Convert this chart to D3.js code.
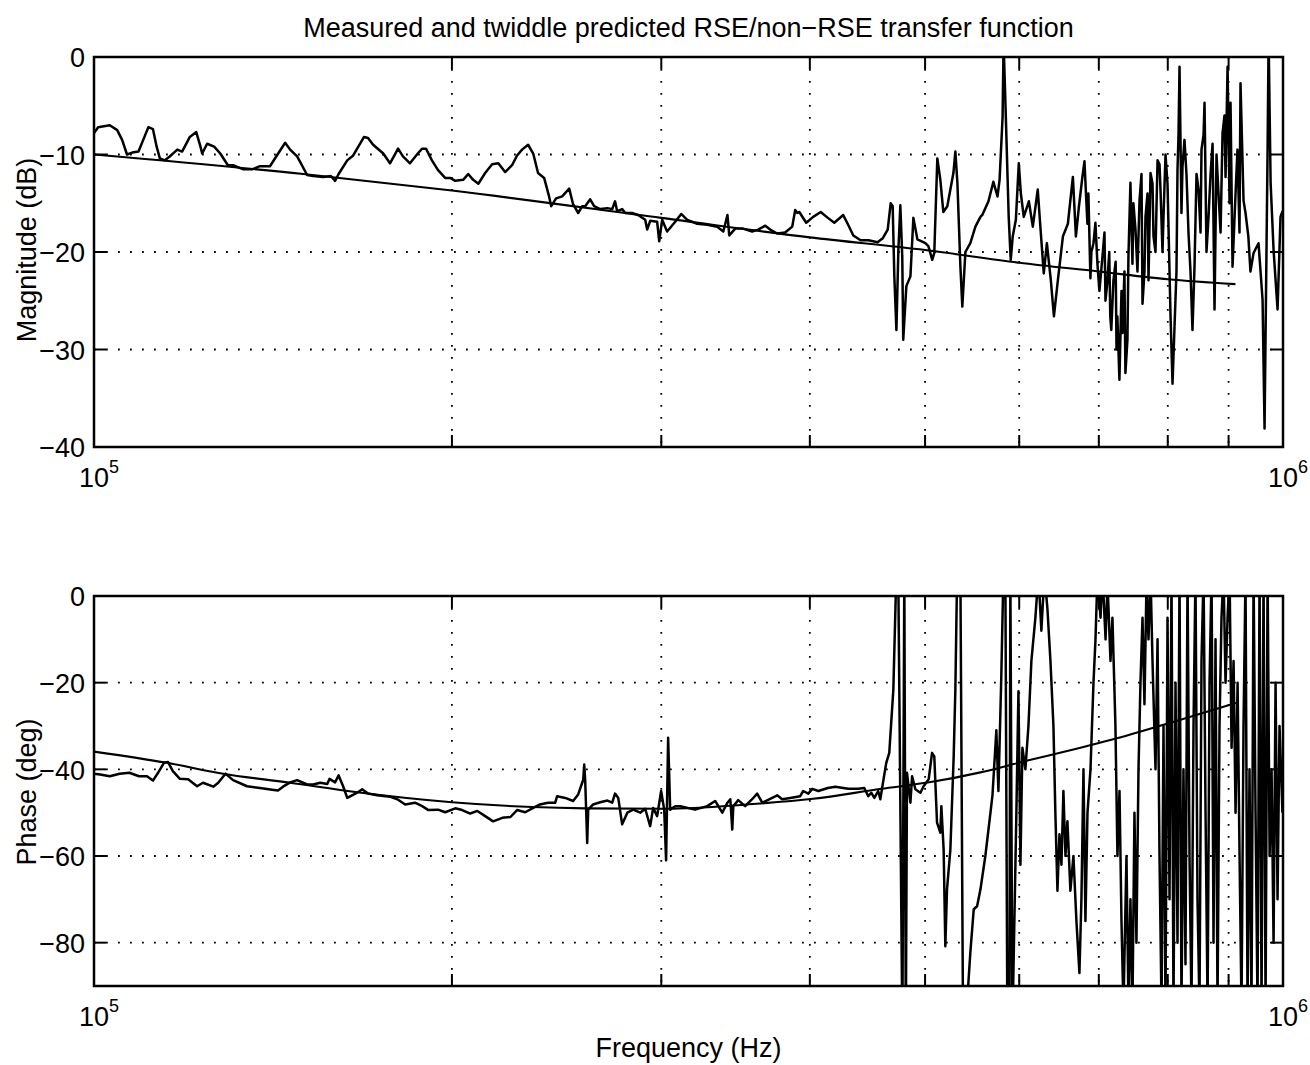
<!DOCTYPE html>
<html>
<head>
<meta charset="utf-8">
<script src="https://cdn.jsdelivr.net/npm/d3@7"></script>
<style>
  html, body { margin: 0; background: #fff; }
  svg { display: block; font-family: "Liberation Sans", Arial, Helvetica, sans-serif; }
</style>
</head>
<body>
<svg id="chart" width="1310" height="1065"></svg>
<script>
// ===== DATA =====
const TITLE   = 'Measured and twiddle predicted RSE/non\u2212RSE transfer function';
const X_LABEL = 'Frequency (Hz)';
const MAG_LABEL   = 'Magnitude (dB)';
const PHASE_LABEL = 'Phase (deg)';

const FREQ_DOMAIN = [1e5, 1e6];
const FREQ_GRID   = [2e5, 3e5, 4e5, 5e5, 6e5, 7e5, 8e5, 9e5];
const FREQ_DECADES = [{ base: '10', exp: '5', f: 1e5 }, { base: '10', exp: '6', f: 1e6 }];

const MAG_DOMAIN   = [-40, 0];
const MAG_TICKS    = [0, -10, -20, -30, -40];
const PHASE_DOMAIN = [-90, 0];
const PHASE_TICKS  = [0, -20, -40, -60, -80];

// measured magnitude, [kHz, dB]
const magMeasured = [
  [100.0,-7.8],[100.8,-7.2],[103.1,-7.0],[104.6,-7.5],[105.6,-8.5],[106.6,-10.0],[107.7,-9.8],[109.0,-9.7],
  [110.0,-8.5],[111.1,-7.2],[112.1,-7.4],[112.9,-9.2],[113.6,-10.4],[114.7,-10.6],[115.8,-10.2],[117.5,-9.5],
  [118.6,-9.7],[120.4,-8.2],[121.9,-7.7],[122.9,-9.2],[123.3,-9.9],[124.5,-8.9],[126.2,-9.2],[127.7,-9.9],
  [129.6,-11.1],[130.9,-11.1],[133.4,-11.5],[136.0,-11.5],[137.9,-11.2],[140.6,-11.2],[142.5,-10.1],[144.8,-8.8],
  [146.2,-9.5],[148.2,-10.2],[151.1,-12.1],[152.9,-12.2],[155.9,-12.3],[158.2,-12.2],[159.5,-12.7],[160.6,-12.0],
  [163.3,-10.6],[165.2,-10.1],[168.7,-8.2],[170.0,-8.3],[171.7,-9.0],[175.1,-9.9],[177.4,-10.9],[180.2,-9.4],
  [181.9,-10.2],[184.4,-10.9],[187.2,-9.9],[188.8,-9.4],[190.2,-9.4],[192.4,-10.6],[194.7,-11.6],[197.4,-12.4],
  [199.3,-12.4],[201.3,-12.7],[204.4,-12.6],[206.4,-12.0],[208.4,-12.6],[210.5,-13.0],[213.3,-11.9],[216.2,-11.0],
  [218.8,-10.9],[221.7,-11.8],[224.7,-11.1],[226.9,-10.1],[229.1,-9.5],[231.8,-9.0],[234.1,-9.9],[236.3,-11.9],
  [239.1,-12.4],[241.4,-14.3],[242.4,-15.3],[244.7,-14.5],[247.6,-14.3],[251.0,-13.5],[252.9,-15.1],[255.4,-16.0],
  [257.4,-15.3],[258.9,-15.3],[261.4,-14.6],[263.4,-15.3],[266.5,-15.6],[270.3,-15.5],[272.8,-15.6],[274.3,-14.8],
  [275.4,-15.8],[278.1,-15.6],[279.8,-16.0],[283.5,-16.0],[286.8,-16.2],[290.8,-16.7],[291.9,-17.7],[293.6,-16.8],
  [297.6,-16.9],[298.8,-18.9],[300.5,-16.7],[303.4,-17.9],[308.2,-16.9],[311.8,-16.1],[314.2,-16.5],[315.5,-16.7],
  [321.6,-17.1],[327.9,-17.2],[334.3,-17.4],[338.3,-17.9],[341.0,-16.2],[342.2,-18.3],[346.2,-17.6],[351.5,-17.6],
  [357.7,-17.9],[361.9,-17.7],[366.9,-17.3],[370.4,-17.7],[375.5,-18.1],[381.3,-18.0],[386.6,-17.4],[388.8,-15.7],
  [390.4,-16.0],[391.9,-15.9],[397.2,-17.0],[402.6,-16.4],[408.5,-15.9],[414.2,-16.5],[419.4,-17.0],[426.7,-16.2],
  [430.8,-17.2],[435.1,-18.3],[441.3,-18.8],[448.1,-18.8],[456.1,-19.0],[460.6,-18.6],[465.1,-17.7],[467.8,-15.0],
  [469.6,-15.3],[471.1,-22.5],[473.0,-28.0],[474.8,-19.8],[476.6,-15.2],[478.4,-20.5],[479.3,-29.0],[482.2,-23.5],
  [486.0,-22.5],[488.8,-16.5],[492.6,-18.7],[500.3,-19.1],[503.2,-19.4],[507.0,-20.8],[509.0,-20.1],[512.0,-10.4],
  [515.0,-12.6],[518.0,-15.9],[522.0,-15.3],[525.1,-13.6],[528.2,-11.9],[530.2,-9.7],[532.3,-12.9],[535.4,-21.5],
  [537.4,-25.6],[540.6,-20.0],[545.8,-19.1],[551.2,-17.4],[556.6,-16.4],[558.6,-16.2],[565.3,-14.8],[570.7,-12.8],
  [575.3,-14.3],[577.6,-12.6],[581.0,-6.1],[582.1,1.5],[584.4,-5.4],[587.9,-16.4],[590.2,-20.8],[592.5,-18.4],
  [596.1,-16.7],[599.5,-10.9],[601.9,-14.0],[605.3,-16.4],[611.3,-14.8],[616.0,-17.4],[621.9,-13.6],[625.5,-17.9],
  [629.2,-22.2],[633.0,-19.1],[637.9,-22.9],[641.7,-26.6],[646.6,-22.9],[653.0,-18.4],[659.3,-17.1],[665.7,-12.3],
  [669.6,-18.4],[673.6,-15.3],[678.1,-12.3],[680.8,-10.7],[684.7,-17.1],[686.0,-14.0],[688.7,-22.7],[690.0,-20.0],
  [692.8,-19.1],[695.4,-17.0],[698.1,-21.2],[700.8,-24.0],[704.9,-20.5],[707.7,-18.0],[709.1,-25.0],[711.5,-23.2],
  [714.3,-20.0],[715.7,-26.6],[717.1,-28.0],[720.1,-22.9],[723.2,-21.0],[724.4,-30.0],[725.6,-26.6],[728.5,-33.1],
  [731.4,-24.0],[732.8,-28.3],[735.6,-22.0],[737.0,-32.4],[739.9,-29.0],[741.3,-20.5],[744.2,-12.9],[747.1,-21.2],
  [748.5,-15.0],[751.5,-17.7],[754.4,-22.0],[757.4,-14.7],[760.3,-12.0],[761.8,-25.3],[764.7,-22.0],[766.2,-16.4],
  [769.2,-14.0],[770.7,-22.9],[773.7,-11.9],[776.7,-13.0],[778.2,-18.4],[781.2,-20.0],[784.3,-10.6],[787.3,-11.0],
  [788.8,-13.6],[791.9,-20.0],[793.4,-16.4],[796.5,-10.0],[799.6,-13.0],[804.3,-26.6],[807.4,-33.5],[810.5,-27.7],
  [813.6,-22.0],[815.2,-11.6],[816.8,-8.0],[818.4,-1.0],[821.5,-16.0],[823.1,-11.3],[826.3,-8.5],[829.5,-12.0],
  [832.8,-18.1],[836.0,-22.0],[839.2,-28.0],[842.5,-21.5],[845.8,-12.0],[849.1,-13.6],[852.4,-18.0],[854.0,-9.5],
  [857.4,-8.0],[859.0,-4.7],[862.3,-20.0],[865.7,-16.4],[869.1,-12.0],[872.5,-8.9],[875.8,-25.9],[879.2,-10.0],
  [882.6,-14.0],[886.1,-18.0],[889.5,-7.8],[892.9,-6.0],[894.7,-12.3],[898.2,-1.0],[901.7,-15.0],[903.4,-4.7],
  [906.9,-21.5],[912.2,-14.0],[915.6,-9.5],[919.2,-18.0],[921.0,-2.7],[926.4,-14.7],[930.0,-16.0],[935.1,-18.4],
  [938.9,-22.0],[944.6,-20.1],[953.7,-19.1],[961.2,-24.9],[964.9,-38.1],[970.6,-9.5],[972.5,2.0],[976.3,-12.9],
  [981.9,-19.8],[989.5,-25.9],[995.2,-16.4],[999.0,-15.8]
];

// twiddle predicted magnitude, [kHz, dB]
const magFit = [
  [100,-10.0],[150,-12.0],[200,-13.7],[300,-16.5],[400,-18.5],[500,-19.8],
  [600,-21.1],[700,-22.0],[800,-22.8],[912,-23.3]
];

// measured phase, [kHz, deg]  (values outside the axis are clipped, as in the original)
const phaseMeasured = [
  [100.0,-41.0],[101.2,-41.2],[103.1,-41.6],[105.1,-41.0],[107.1,-40.8],[109.1,-41.6],[110.8,-41.6],[112.1,-42.6],
  [113.2,-40.8],[114.5,-38.5],[115.4,-38.3],[116.5,-40.4],[118.1,-42.2],[120.0,-42.3],[122.1,-43.9],[123.5,-43.1],
  [126.0,-44.0],[127.2,-43.1],[129.0,-41.0],[130.9,-42.5],[134.5,-43.9],[137.9,-44.3],[141.2,-44.7],[142.8,-44.9],
  [144.2,-44.0],[146.2,-43.0],[148.2,-42.5],[151.1,-43.5],[152.9,-43.5],[155.0,-43.1],[157.1,-43.4],[157.8,-42.2],
  [159.5,-43.0],[160.6,-41.4],[162.0,-43.9],[163.3,-46.6],[166.5,-45.4],[168.1,-44.6],[170.0,-45.6],[173.0,-46.0],
  [177.4,-46.3],[180.2,-47.0],[182.7,-48.1],[186.2,-47.7],[188.8,-48.5],[191.1,-49.4],[194.7,-49.3],[197.4,-49.9],
  [201.3,-49.0],[204.0,-49.4],[207.2,-50.2],[210.1,-49.6],[213.3,-50.8],[216.6,-52.0],[220.5,-51.2],[224.0,-51.0],
  [226.9,-49.4],[230.5,-49.9],[234.1,-48.9],[237.2,-48.1],[240.9,-47.7],[244.3,-47.7],[245.2,-46.2],[249.1,-46.6],
  [252.9,-47.3],[255.4,-45.8],[257.9,-42.4],[258.4,-38.9],[258.9,-42.7],[259.9,-57.0],[260.4,-49.3],[262.9,-48.1],
  [266.5,-47.6],[270.3,-47.2],[272.8,-47.7],[274.3,-45.6],[276.0,-46.6],[278.1,-52.7],[280.9,-50.0],[284.1,-49.3],
  [288.0,-50.0],[290.8,-49.1],[293.6,-53.1],[295.3,-48.9],[297.6,-50.8],[299.9,-45.0],[301.7,-49.3],[302.8,-61.0],
  [304.0,-32.7],[305.2,-49.3],[308.2,-48.5],[311.2,-48.5],[320.3,-49.3],[327.9,-48.5],[333.0,-47.3],[337.6,-50.0],
  [341.0,-47.7],[342.9,-46.9],[344.2,-53.9],[344.9,-48.5],[348.2,-47.1],[352.9,-48.5],[357.7,-46.9],[361.2,-45.6],
  [364.8,-47.7],[370.4,-46.8],[375.5,-46.0],[379.1,-46.9],[385.1,-46.6],[392.6,-46.2],[394.9,-45.0],[398.8,-45.6],
  [401.9,-44.5],[406.6,-45.0],[414.2,-44.3],[420.2,-44.0],[430.8,-44.5],[439.3,-44.5],[444.5,-44.3],[447.9,-46.2],
  [450.5,-45.4],[453.2,-46.6],[456.6,-45.0],[458.5,-46.9],[461.1,-42.7],[463.8,-38.5],[466.5,-36.2],[470.2,-21.6],
  [472.9,5],[474.7,5],[478.5,-100],[480.3,5],[481.7,-100],[482.8,-40.8],[486.0,-47.7],[487.6,-41.6],
  [490.7,-44.6],[495.5,-45.4],[498.6,-43.9],[503.5,-42.3],[506.8,-36.2],[509.0,-37.0],[511.7,-52.3],[515.0,-54.6],
  [516.0,-48.5],[518.3,-58.5],[520.0,-80.8],[521.7,-67.7],[525.1,-58.5],[528.5,-36.9],[530.2,-21.6],[532.0,5],
  [535.4,5],[538.2,-100],[540.6,-100],[545.8,-82.3],[549.4,-72.3],[553.0,-71.6],[556.6,-67.7],[561.9,-60],
  [567.5,-50],[569.7,-46],[574.0,-31],[576.3,-45],[579.6,-18],[581.9,5],[584.1,5],[586.4,-100],
  [588.7,-100],[589.8,5],[592.1,-100],[596.7,-50],[599.1,-22],[601.4,-62],[603.7,-35],[607.2,-40],
  [610.8,-30],[614.3,-15],[619.1,-5],[622.7,5],[626.3,-8],[630.0,5],[633.7,-3],[637.4,-15],
  [641.1,-30],[643.5,-50],[646.1,-68],[648.6,-55],[651.1,-62],[653.6,-45],[656.2,-60],[658.7,-52],
  [662.5,-68],[666.4,-60],[670.3,-75],[674.2,-87],[676.8,-70],[679.5,-40],[682.1,-75],[684.8,-50],
  [688.8,-40],[692.8,-20],[695.5,-10],[698.2,5],[702.3,-5],[705.0,5],[709.2,-10],[711.9,3],
  [716.0,-15],[718.7,-5],[722.9,-30],[725.7,-60],[728.6,-45],[731.4,-75],[734.2,-95],[738.5,-60],
  [741.4,-95],[744.2,-70],[747.1,-95],[750.0,-50],[752.9,-80],[755.9,-40],[758.8,-20],[761.8,-5],
  [764.7,-25],[767.7,3],[770.7,-10],[773.7,5],[776.7,-15],[781.2,-40],[784.3,-10],[787.3,-60],
  [790.4,-95],[793.4,-30],[796.5,-95],[799.6,-5],[802.7,-70],[805.8,5],[808.9,-95],[812.1,-20],
  [815.2,-80],[818.4,5],[821.5,-95],[824.7,-40],[827.9,-85],[831.2,5],[834.4,-60],[837.6,-95],
  [840.9,-30],[844.1,5],[847.4,-70],[850.7,-95],[854.0,-15],[857.4,5],[860.7,-50],[864.1,-95],
  [867.4,-20],[870.8,5],[874.1,-80],[877.5,-10],[880.9,-95],[884.3,-30],[887.7,-5],[891.2,5],
  [894.7,-20],[898.2,-5],[901.7,5],[905.2,-35],[908.7,-15],[912.2,-50],[915.8,-20],[919.3,-60],
  [922.8,-95],[926.4,-30],[930.0,5],[933.6,-95],[937.2,-40],[940.8,-95],[944.6,5],[948.2,-50],
  [951.9,-95],[955.6,5],[959.3,-95],[963.0,5],[966.8,-95],[970.6,5],[974.4,-60],[978.1,-40],
  [981.9,-80],[985.7,-20],[989.5,-70],[993.3,-30],[999.0,-50]
];

// twiddle predicted phase, [kHz, deg]
const phaseFit = [
  [100,-35.9],[115.2,-38.5],[128.4,-41.0],[146.2,-43.1],[166.5,-45.3],[200,-47.6],[233.6,-48.7],
  [258.9,-49.0],[302.8,-49.1],[354.3,-48.1],[402.6,-46.8],[459.3,-44.5],[504,-43.0],[556.6,-40.7],
  [607.2,-38.1],[669,-35.3],[737,-32.3],[812.1,-28.9],[917.6,-24.5]
];


// ===== LAYOUT =====
const LEFT = 94, RIGHT = 1283;
const TICK_LEN = 12;
const FONT = 27;

const svg = d3.select('#chart');
const x = d3.scaleLog().domain(FREQ_DOMAIN).range([LEFT, RIGHT]);

function drawPanel({ id, top, bottom, domain, ticks, label, labelY, measured, fit }) {
    const y = d3.scaleLinear().domain(domain).range([bottom, top]);
    const g = svg.append('g');

    svg.append('clipPath').attr('id', id)
        .append('rect')
        .attr('x', LEFT).attr('y', top)
        .attr('width', RIGHT - LEFT).attr('height', bottom - top);

    // dotted grid
    const grid = g.append('g')
        .attr('stroke', '#000')
        .attr('stroke-width', 1.8)
        .attr('stroke-dasharray', '1.8 10.2');

    grid.selectAll('.vgrid')
        .data(FREQ_GRID)
        .enter().append('line')
        .attr('x1', d => x(d)).attr('x2', d => x(d))
        .attr('y1', top).attr('y2', bottom);

    grid.selectAll('.hgrid')
        .data(ticks.filter(t => t > domain[0] && t < domain[1]))
        .enter().append('line')
        .attr('x1', LEFT).attr('x2', RIGHT)
        .attr('y1', d => y(d)).attr('y2', d => y(d));

    // inward tick marks
    const tk = g.append('g').attr('stroke', '#000').attr('stroke-width', 2);
    ticks.forEach(t => {
        tk.append('line').attr('x1', LEFT).attr('x2', LEFT + TICK_LEN).attr('y1', y(t)).attr('y2', y(t));
        tk.append('line').attr('x1', RIGHT - TICK_LEN).attr('x2', RIGHT).attr('y1', y(t)).attr('y2', y(t));
    });
    FREQ_GRID.forEach(f => {
        tk.append('line').attr('x1', x(f)).attr('x2', x(f)).attr('y1', bottom).attr('y2', bottom - TICK_LEN);
        tk.append('line').attr('x1', x(f)).attr('x2', x(f)).attr('y1', top).attr('y2', top + TICK_LEN);
    });

    // data lines
    const line = d3.line()
        .x(d => x(d[0] * 1000))
        .y(d => y(d[1]));

    const plot = g.append('g').attr('clip-path', `url(#${id})`);

    plot.append('path')
        .datum(fit)
        .attr('d', line.curve(d3.curveMonotoneX))
        .attr('fill', 'none')
        .attr('stroke', '#000')
        .attr('stroke-width', 2.1);

    plot.append('path')
        .datum(measured)
        .attr('d', line.curve(d3.curveLinear))
        .attr('fill', 'none')
        .attr('stroke', '#000')
        .attr('stroke-width', 2.5)
        .attr('stroke-linejoin', 'round');

    // axes box
    g.append('rect')
        .attr('x', LEFT).attr('y', top)
        .attr('width', RIGHT - LEFT).attr('height', bottom - top)
        .attr('fill', 'none')
        .attr('stroke', '#000')
        .attr('stroke-width', 2.5);

    // y tick labels
    const yAxis = d3.axisLeft(y)
        .tickValues(ticks)
        .tickSize(0)
        .tickPadding(9)
        .tickFormat(d3.format('d'));

    const ya = g.append('g')
        .attr('transform', `translate(${LEFT},0)`)
        .call(yAxis)
        .attr('font-size', FONT)
        .attr('font-family', null);
    ya.select('.domain').remove();
    ya.selectAll('text').attr('fill', '#000').attr('dy', '0.36em');

    // x decade labels, 10 with superscript exponent
    FREQ_DECADES.forEach(d => {
        const t = g.append('text')
            .attr('x', x(d.f) - 15)
            .attr('y', bottom + 40)
            .attr('font-size', FONT)
            .attr('fill', '#000');
        t.append('tspan').text(d.base);
        t.append('tspan').attr('dy', -14).attr('font-size', 18).text(d.exp);
    });

    // y axis label
    g.append('text')
        .attr('transform', `translate(36,${labelY}) rotate(-90)`)
        .attr('text-anchor', 'middle')
        .attr('font-size', FONT)
        .attr('fill', '#000')
        .text(label);
}

drawPanel({
    id: 'clip-mag', top: 57, bottom: 447,
    domain: MAG_DOMAIN, ticks: MAG_TICKS,
    label: MAG_LABEL, labelY: 250,
    measured: magMeasured, fit: magFit
});

drawPanel({
    id: 'clip-phase', top: 596, bottom: 986,
    domain: PHASE_DOMAIN, ticks: PHASE_TICKS,
    label: PHASE_LABEL, labelY: 792,
    measured: phaseMeasured, fit: phaseFit
});

// title and shared x label
svg.append('text')
    .attr('x', (LEFT + RIGHT) / 2)
    .attr('y', 37)
    .attr('text-anchor', 'middle')
    .attr('font-size', FONT)
    .attr('fill', '#000')
    .text(TITLE);

svg.append('text')
    .attr('x', (LEFT + RIGHT) / 2)
    .attr('y', 1057)
    .attr('text-anchor', 'middle')
    .attr('font-size', FONT)
    .attr('fill', '#000')
    .text(X_LABEL);
</script>
</body>
</html>
